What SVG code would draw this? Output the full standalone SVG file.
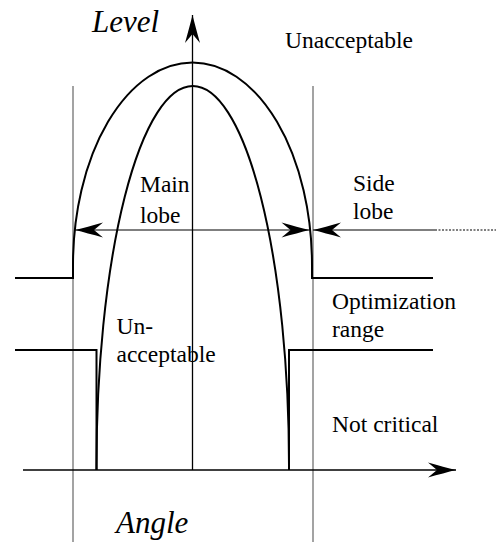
<svg xmlns="http://www.w3.org/2000/svg" width="496" height="542" viewBox="0 0 496 542">
<style>
  .lbl { font-family: 'Liberation Serif', 'Times New Roman', Times, 'DejaVu Serif', serif; font-size: 23.5px; fill: #000; }
  .ax { font-family: 'Liberation Serif', 'Times New Roman', Times, 'DejaVu Serif', serif; font-size: 31px; font-style: italic; fill: #000; }
  .thick { fill: none; stroke: #000; stroke-width: 2; }
  .axis { fill: none; stroke: #000; stroke-width: 1.3; }
  .guide { fill: none; stroke: #666; stroke-width: 1.2; }
  .dim { fill: none; stroke: #000; stroke-width: 1.1; }
</style>
<defs>
  <marker id="barb" viewBox="-30 -8 30 16" markerWidth="30" markerHeight="16" refX="0" refY="0" orient="auto-start-reverse" markerUnits="userSpaceOnUse">
    <path d="M0,0 Q-12,-3 -28,-7.5 L-19,0 L-28,7.5 Q-12,3 0,0 Z" fill="#000"/>
  </marker>
</defs>
<g id="guides">
  <line class="guide" x1="73" y1="86" x2="73" y2="542"/>
  <line class="guide" x1="313" y1="86" x2="313" y2="542"/>
</g>
<g id="outer-mask">
  <path class="thick" d="M15,278 H73 V265 A119.5,202.5 0 0 1 312,265 V278 H433"/>
</g>
<g id="inner-mask">
  <path class="thick" d="M96.5,470 V465 A96.25,379 0 0 1 289,465 V470"/>
  <path class="thick" d="M15,350 H96.5 V470"/>
  <path class="thick" d="M289,470 V350 H433"/>
</g>
<g id="connectors">
  <path class="axis" d="M192.5,470 V15" marker-end="url(#barb)"/>
  <path class="axis" d="M23,470 H456" marker-end="url(#barb)"/>
  <path class="dim" d="M75,230 H309.5" marker-start="url(#barb)" marker-end="url(#barb)"/>
  <path class="dim" d="M435,230 H313" marker-end="url(#barb)"/>
  <path class="dim" d="M435,230 H496" stroke-dasharray="2,1.5"/>
</g>
<g id="labels" font-family="'Liberation Serif', serif">
  <text class="ax" x="92" y="32">Level</text>
  <text class="ax" x="116" y="533">Angle</text>
  <text class="lbl" x="285" y="48">Unacceptable</text>
  <text class="lbl" x="140" y="191.5">Main</text>
  <text class="lbl" x="140" y="223">lobe</text>
  <text class="lbl" x="353" y="190.5">Side</text>
  <text class="lbl" x="353" y="219">lobe</text>
  <text class="lbl" x="332" y="309">Optimization</text>
  <text class="lbl" x="332" y="336.5">range</text>
  <text class="lbl" x="116.5" y="334">Un-</text>
  <text class="lbl" x="116.5" y="362">acceptable</text>
  <text class="lbl" x="332" y="431.5">Not critical</text>
</g>
</svg>
